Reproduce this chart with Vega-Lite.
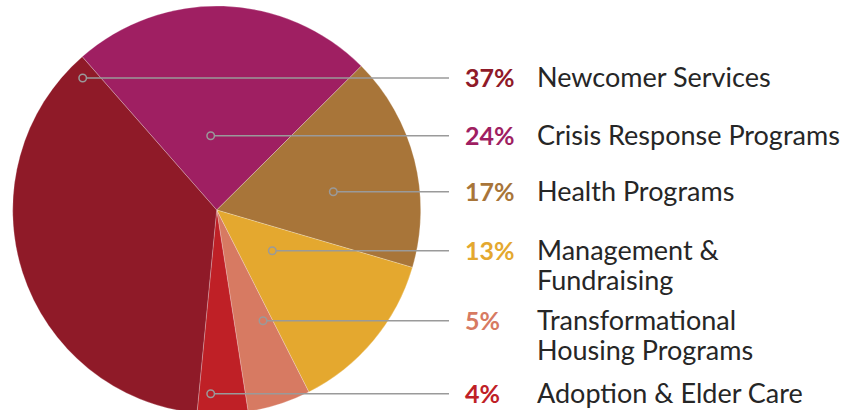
{
  "$schema": "https://vega.github.io/schema/vega-lite/v6.json",
  "width": 859,
  "height": 410,
  "autosize": {"type": "none"},
  "padding": 0,
  "background": "#ffffff",
  "config": {"view": {"stroke": null}},
  "data": {
    "values": [
      {"name": "Crisis Response Programs", "label": "Crisis Response Programs", "pct": 24, "pctLabel": "24%", "order": 1, "dotX": 210.7, "rowY": 135.7},
      {"name": "Health Programs", "label": "Health Programs", "pct": 17, "pctLabel": "17%", "order": 2, "dotX": 333.3, "rowY": 191.7},
      {"name": "Management & Fundraising", "label": "Management &\nFundraising", "pct": 13, "pctLabel": "13%", "order": 3, "dotX": 272.3, "rowY": 250.7},
      {"name": "Transformational Housing Programs", "label": "Transformational\nHousing Programs", "pct": 5, "pctLabel": "5%", "order": 4, "dotX": 263, "rowY": 320.7},
      {"name": "Adoption & Elder Care", "label": "Adoption & Elder Care", "pct": 4, "pctLabel": "4%", "order": 5, "dotX": 210.7, "rowY": 393.7},
      {"name": "Newcomer Services", "label": "Newcomer Services", "pct": 37, "pctLabel": "37%", "order": 6, "dotX": 82.7, "rowY": 78}
    ]
  },
  "layer": [
    {
      "mark": {"type": "arc", "radius": 204, "stroke": "#ffffff", "strokeWidth": 0.4, "strokeOpacity": 0.6},
      "encoding": {
        "x": {"datum": 216.7, "type": "quantitative", "scale": {"domain": [0, 859], "nice": false, "zero": false}, "axis": null},
        "y": {"datum": 210, "type": "quantitative", "scale": {"domain": [0, 410], "nice": false, "zero": false, "reverse": true}, "axis": null},
        "theta": {"field": "pct", "type": "quantitative", "stack": true, "scale": {"range": [-0.72, 5.5632]}},
        "order": {"field": "order", "type": "quantitative", "sort": "ascending"},
        "color": {
          "field": "name", "type": "nominal", "legend": null,
          "scale": {
            "domain": ["Newcomer Services", "Crisis Response Programs", "Health Programs", "Management & Fundraising", "Transformational Housing Programs", "Adoption & Elder Care"],
            "range": ["#8f1a28", "#9f1f62", "#a87539", "#e4a82f", "#d77a62", "#bf2026"]
          }
        }
      }
    },
    {
      "mark": {"type": "rule", "color": "#9a9a9a", "strokeWidth": 1.5},
      "encoding": {
        "x": {"field": "dotX", "type": "quantitative"},
        "x2": {"datum": 449},
        "y": {"field": "rowY", "type": "quantitative"}
      }
    },
    {
      "mark": {"type": "point", "shape": "circle", "size": 56, "stroke": "#9a9a9a", "strokeWidth": 1.5, "filled": false, "opacity": 1},
      "encoding": {
        "x": {"field": "dotX", "type": "quantitative"},
        "y": {"field": "rowY", "type": "quantitative"},
        "fill": {
          "field": "name", "type": "nominal", "legend": null,
          "scale": {
            "domain": ["Newcomer Services", "Crisis Response Programs", "Health Programs", "Management & Fundraising", "Transformational Housing Programs", "Adoption & Elder Care"],
            "range": ["#8f1a28", "#9f1f62", "#a87539", "#e4a82f", "#d77a62", "#bf2026"]
          }
        }
      }
    },
    {
      "mark": {"type": "text", "align": "left", "baseline": "alphabetic", "dy": 9, "font": "Lato", "fontSize": 25, "fontWeight": "bold"},
      "encoding": {
        "x": {"datum": 465},
        "y": {"field": "rowY", "type": "quantitative"},
        "text": {"field": "pctLabel"},
        "color": {"field": "name", "type": "nominal", "legend": null}
      }
    },
    {
      "mark": {"type": "text", "align": "left", "baseline": "alphabetic", "dy": 9, "font": "Lato", "fontSize": 27, "lineBreak": "\n", "lineHeight": 30, "color": "#262626"},
      "encoding": {
        "x": {"datum": 537},
        "y": {"field": "rowY", "type": "quantitative"},
        "text": {"field": "label"}
      }
    }
  ]
}
